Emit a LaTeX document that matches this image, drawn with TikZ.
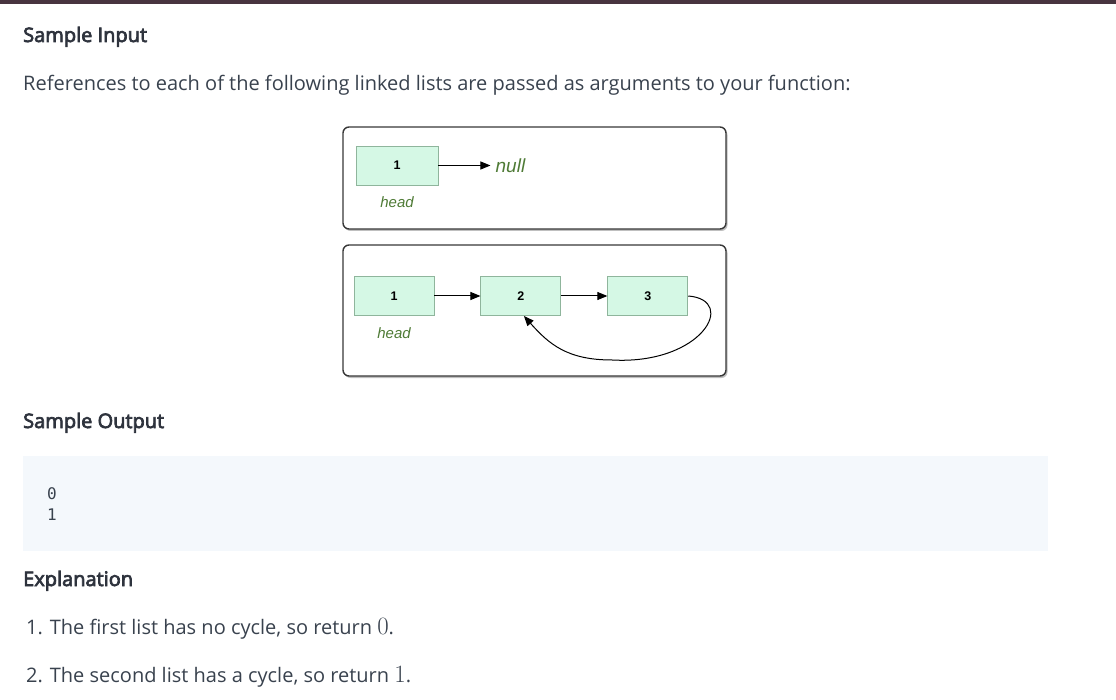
\documentclass[tikz,border=0pt]{standalone}
\usepackage{fontspec}
\setmainfont{Open Sans}
\setmonofont{DejaVu Sans Mono}
\newfontfamily\arialfont{Liberation Sans}
\newfontfamily\semibold{Open Sans}[FakeBold=3.5]
\usetikzlibrary{positioning,arrows.meta}
\definecolor{txt}{HTML}{39424E}
\definecolor{headtxt}{HTML}{2E333D}
\definecolor{topbar}{HTML}{48343F}
\definecolor{mint}{HTML}{D5F8E5}
\definecolor{mintline}{HTML}{8FB59C}
\definecolor{olive}{HTML}{4F7B36}
\definecolor{codebg}{HTML}{F4F8FC}
\tikzset{
  listnode/.style={draw=mintline,fill=mint,line width=0.9pt,minimum width=80pt,minimum height=39pt,inner sep=0pt,
    font=\arialfont\bfseries\fontsize{12.5}{12.5}\selectfont},
  tag/.style={text=olive,inner sep=1pt,font=\arialfont\itshape\fontsize{15}{15}\selectfont},
  ptr/.style={-{Triangle[length=10pt,width=8pt]},line width=1pt},
  frame/.style={draw=black!78,line width=1.4pt,rounded corners=6pt,fill=white},
  shade/.style={fill=black!25,rounded corners=6pt},
  heading/.style={anchor=base west,inner sep=0pt,text=headtxt,font=\semibold\fontsize{20}{20}\selectfont},
  body/.style={anchor=base west,inner sep=0pt,text=txt,font=\fontsize{20}{20}\selectfont}
}
\begin{document}
\begin{tikzpicture}[x=1pt,y=-1pt]
\useasboundingbox (0,0) rectangle (1116,700);
\fill[topbar] (0,0) rectangle (1116,4.5);
\node[heading] (hinput) at (23,42) {Sample Input};
\node[body] (intro) at (23,91) {References to each of the following linked lists are passed as arguments to your function:};
% first list, no cycle
\fill[shade] (344.5,129) rectangle (727.5,231);
\draw[frame] (343,127) rectangle (726,229);
\node[listnode,minimum width=82pt] (a1) at (397,165.5) {1};
\node[tag,font=\arialfont\itshape\fontsize{19}{19}\selectfont,right=56pt of a1] (anull) {null};
\node[tag,below=10pt of a1] (ahead) {head};
\draw[ptr,shorten >=4pt] (a1) -- (anull);
% second list, 3 points back to 2
\fill[shade] (344.5,247) rectangle (727.5,378);
\draw[frame] (343,245) rectangle (726,376);
\node[listnode] (b1) at (394,296) {1};
\node[listnode,right=46pt of b1] (b2) {2};
\node[listnode,right=46pt of b2] (b3) {3};
\node[tag,below=10pt of b1] (bhead) {head};
\coordinate (loopbot) at (612,360);
\draw[ptr] (b1) -- (b2);
\draw[ptr] (b2) -- (b3);
\draw[ptr] (b3.east) .. controls +(50,4) and +(90,5) .. (loopbot) .. controls +(-45,0) and +(25,28) .. ([xshift=3pt]b2.south);
\node[heading] (houtput) at (23,428) {Sample Output};
\fill[codebg] (23,456) rectangle (1048,551);
\node[anchor=base west,inner sep=0pt,text=txt,font=\ttfamily\fontsize{16}{16}\selectfont] (out0) at (47,499) {0};
\node[anchor=base west,inner sep=0pt,text=txt,font=\ttfamily\fontsize{16}{16}\selectfont] (out1) at (47,520) {1};
\node[heading] (hexpl) at (23,586) {Explanation};
\node[body] (expl1) at (26,634) {1. The first list has no cycle, so return {\fontsize{24}{24}\selectfont$0$}.};
\node[body] (expl2) at (26,682) {2. The second list has a cycle, so return {\fontsize{24}{24}\selectfont$1$}.};
\end{tikzpicture}
\end{document}
